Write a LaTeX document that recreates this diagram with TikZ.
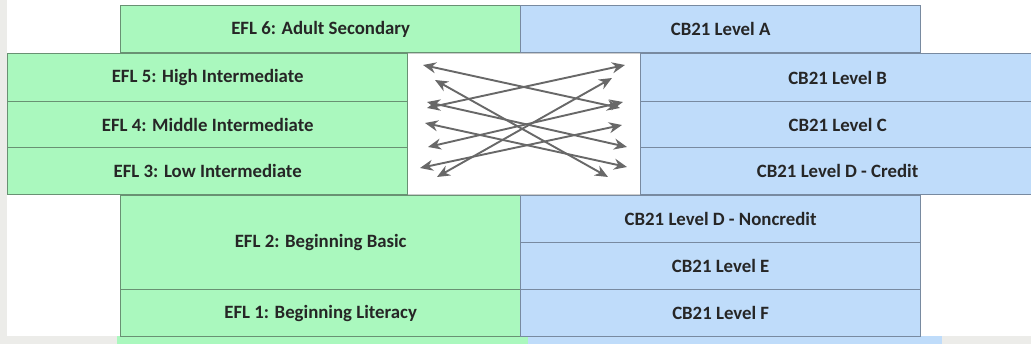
\documentclass[tikz,border=0pt]{standalone}
\usepackage{fontspec}
\setmainfont{Carlito}
\usetikzlibrary{arrows.meta}

\definecolor{eflgreen}{RGB}{170,248,190}
\definecolor{cbblue}{RGB}{191,220,250}
\definecolor{eflline}{RGB}{105,145,115}
\definecolor{cbline}{RGB}{120,138,160}
\definecolor{arrowgray}{RGB}{104,104,104}
\definecolor{slidegray}{RGB}{236,236,233}

\tikzset{
  level/.style={rectangle, line width=1.3pt, inner sep=0pt, anchor=north west,
    font=\bfseries\fontsize{18.8}{22}\selectfont, text=black!85},
  efl/.style={level, draw=eflline, fill=eflgreen},
  cb/.style={level, draw=cbline, fill=cbblue},
  map/.style={draw=arrowgray, line width=1.9pt,
    {Stealth[length=13pt,width=11pt]}-{Stealth[length=13pt,width=11pt]}}
}

\begin{document}
\begin{tikzpicture}[x=1pt,y=-1pt]
\useasboundingbox (0,0) rectangle (1031,344);
\fill[white] (0,0) rectangle (1031,344);
% slide edges
\fill[slidegray] (0,0) rectangle (7,344);
\fill[slidegray] (0,336) rectangle (1031,344);
\fill[eflgreen] (117,336) rectangle (528,344);
\fill[cbblue] (528,336) rectangle (942,344);

% top row
\node[efl, minimum width=400pt, minimum height=47pt] (efl6) at (120,5) {EFL 6: Adult Secondary};
\node[cb, minimum width=400pt, minimum height=47pt] (cba) at (520,5) {CB21 Level A};

% middle rows, white box for the arrows in between
\node[rectangle, draw=black!20, fill=white, line width=0.8pt, anchor=north west,
  minimum width=233pt, minimum height=141pt] (links) at (407,53) {};
\node[efl, minimum width=400pt, minimum height=48pt] (efl5) at (7,53) {EFL 5: High Intermediate};
\node[efl, minimum width=400pt, minimum height=46pt] (efl4) at (7,101) {EFL 4: Middle Intermediate};
\node[efl, minimum width=400pt, minimum height=47pt] (efl3) at (7,147) {EFL 3: Low Intermediate};
\node[cb, minimum width=394pt, minimum height=48pt] (cbb) at (640,53) {CB21 Level B};
\node[cb, minimum width=394pt, minimum height=46pt] (cbc) at (640,101) {CB21 Level C};
\node[cb, minimum width=394pt, minimum height=47pt] (cbdc) at (640,147) {CB21 Level D - Credit};

% bottom rows
\node[efl, minimum width=400pt, minimum height=94pt] (efl2) at (120,195) {EFL 2: Beginning Basic};
\node[efl, minimum width=400pt, minimum height=47pt] (efl1) at (120,289) {EFL 1: Beginning Literacy};
\node[cb, minimum width=400pt, minimum height=47pt] (cbdn) at (520,195) {CB21 Level D - Noncredit};
\node[cb, minimum width=400pt, minimum height=47pt] (cbe) at (520,242) {CB21 Level E};
\node[cb, minimum width=400pt, minimum height=47pt] (cbf) at (520,289) {CB21 Level F};

% arrow ends, left and right side
\coordinate (l1) at (423,65);
\coordinate (l2) at (435,80);
\coordinate (l3) at (427,102);
\coordinate (l4) at (427,108);
\coordinate (l5) at (425,123);
\coordinate (l6) at (428,147);
\coordinate (l7) at (420,168);
\coordinate (l8) at (437,177);
\coordinate (r1) at (625,65);
\coordinate (r2) at (612,78);
\coordinate (r3) at (623,102);
\coordinate (r4) at (620,108);
\coordinate (r5) at (622,125);
\coordinate (r6) at (627,147);
\coordinate (r7) at (627,167);
\coordinate (r8) at (608,177);

\draw[map] (l1) -- (r4);
\draw[map] (l2) -- (r8);
\draw[map] (l3) -- (r6);
\draw[map] (l4) -- (r1);
\draw[map] (l5) -- (r7);
\draw[map] (l6) -- (r3);
\draw[map] (l7) -- (r5);
\draw[map] (l8) -- (r2);
\end{tikzpicture}
\end{document}
